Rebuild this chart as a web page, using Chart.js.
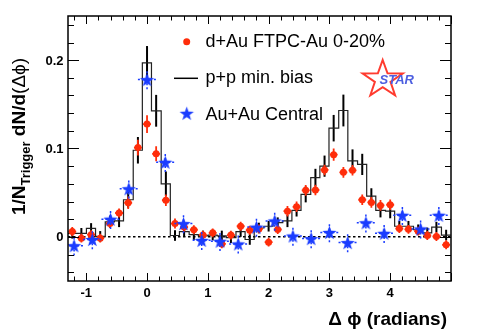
<!DOCTYPE html>
<html>
<head>
<meta charset="utf-8">
<script src="https://cdn.jsdelivr.net/npm/chart.js@4.4.1/dist/chart.umd.min.js"></script>
<style>
  html, body { margin: 0; padding: 0; background: #fff; }
  #c { display: block; }
</style>
</head>
<body>
<canvas id="c" width="498" height="330"></canvas>
<script>
// bin centres (radians) shared by the d+Au points and the p+p histogram
const binCenters = [-1.23, -1.08, -0.92, -0.77, -0.61, -0.46, -0.31, -0.15, 0, 0.15,
  0.31, 0.46, 0.61, 0.77, 0.92, 1.08, 1.23, 1.38, 1.54, 1.69,
  1.84, 2.00, 2.15, 2.31, 2.46, 2.61, 2.77, 2.92, 3.07, 3.23,
  3.38, 3.54, 3.69, 3.84, 4.00, 4.15, 4.30, 4.46, 4.61, 4.76, 4.92];
const binHalfWidth = 0.077;

// d+Au FTPC-Au 0-20%
const dAuY = [0.006, -0.0015, 0.0025, -0.0015, 0.015, 0.027, 0.0386, 0.101, 0.1276, 0.094,
  0.0414, 0.015, 0.011, 0.008, 0.002, 0.0045, -0.008, 0.002, 0.012, 0.0075,
  0.009, -0.006, 0.0083, 0.029, 0.034, 0.0526, 0.053, 0.0757, 0.093, 0.073,
  0.0753, 0.042, 0.039, 0.0356, 0.0363, 0.0093, 0.0085, 0.0064, 0.0015, 0.0004, -0.009];
const dAuErr = [0.005, 0.005, 0.005, 0.005, 0.005, 0.005, 0.007, 0.009, 0.010, 0.0085,
  0.0066, 0.0057, 0.005, 0.005, 0.005, 0.005, 0.005, 0.005, 0.005, 0.005,
  0.005, 0.005, 0.005, 0.006, 0.006, 0.006, 0.006, 0.006, 0.007, 0.006,
  0.006, 0.006, 0.006, 0.006, 0.006, 0.005, 0.005, 0.005, 0.005, 0.005, 0.005];
const dAuErrX = 0.065;

// p+p min. bias histogram
const ppY = [0.004, 0.004, 0.0095, 0.0005, 0.017, 0.018, 0.042, 0.098, 0.197, 0.1427,
  0.060, 0.0015, 0.006, 0.0025, 0.001, 0.002, 0.001, -0.001, 0.006, -0.003,
  0.010, 0.012, 0.016, 0.018, 0.030, 0.048, 0.067, 0.080, 0.123, 0.143,
  0.086, 0.082, 0.046, 0.030, 0.029, 0.012, 0.012, 0.008, 0.0045, 0.011, 0.002];
const ppErr = [0.006, 0.006, 0.006, 0.006, 0.007, 0.007, 0.009, 0.015, 0.019, 0.018,
  0.014, 0.006, 0.006, 0.006, 0.006, 0.006, 0.006, 0.006, 0.006, 0.006,
  0.006, 0.006, 0.006, 0.007, 0.007, 0.009, 0.010, 0.012, 0.015, 0.018,
  0.013, 0.012, 0.009, 0.008, 0.008, 0.006, 0.006, 0.006, 0.006, 0.006, 0.006];

// Au+Au Central
const auAuX = [-1.2, -0.9, -0.6, -0.3, 0, 0.3, 0.6, 0.9, 1.2, 1.5,
  1.8, 2.1, 2.4, 2.7, 3.0, 3.3, 3.6, 3.9, 4.2, 4.5, 4.8];
const auAuY = [-0.010, -0.003, 0.020, 0.0545, 0.178, 0.0845, 0.015, -0.004, -0.005, -0.008,
  0.011, 0.018, 0.001, -0.002, 0.005, -0.0065, 0.016, 0.004, 0.0245, 0.009, 0.0245];
const auAuErr = 0.011;
const auAuErrX = 0.15;

// axes
const xRange = [-1.3, 5.0];
const yRange = [-0.05, 0.25];
const xTickLabels = [-1, 0, 1, 2, 3, 4];
const yTickLabels = [0, 0.1, 0.2];
const xMinorStep = 0.2;
const yMinorStep = 0.02;

const legendLabels = ['d+Au FTPC-Au 0-20%', 'p+p min. bias', 'Au+Au Central'];

const RED = '#ff2d0a';
const BLUE = '#1a3cff';
const FONT = "'Liberation Sans', Arial, Helvetica, sans-serif";

function starPath(g, cx, cy, r, ri, sx) {
  g.beginPath();
  for (let i = 0; i < 10; i++) {
    const rad = i % 2 === 0 ? r : ri;
    const a = -Math.PI / 2 + i * Math.PI / 5;
    g.lineTo(cx + rad * Math.cos(a) * sx, cy + rad * Math.sin(a));
  }
  g.closePath();
}

function makeStar(r, color) {
  const c = document.createElement('canvas');
  const s = Math.ceil(r * 2 + 2);
  c.width = s;
  c.height = s;
  const g = c.getContext('2d');
  g.fillStyle = color;
  starPath(g, s / 2, s / 2 + r * 0.1, r, r * 0.4, 1);
  g.fill();
  return c;
}

const starImg = makeStar(7.5, BLUE);

// error bars are drawn just under their own dataset
const errorBars = {
  id: 'errorBars',
  beforeDatasetDraw(chart, args) {
    const ds = chart.data.datasets[args.index];
    if (!ds.errBars) return;
    const xs = chart.scales.x, ys = chart.scales.y, g = chart.ctx, a = chart.chartArea;
    g.save();
    g.beginPath();
    g.rect(a.left, a.top, a.right - a.left, a.bottom - a.top);
    g.clip();
    g.strokeStyle = ds.errColor;
    g.lineWidth = ds.errWidth;
    g.setLineDash(ds.errDash || []);
    ds.errBars.forEach(b => {
      const px = xs.getPixelForValue(b.x), py = ys.getPixelForValue(b.y);
      g.beginPath();
      g.moveTo(px, ys.getPixelForValue(b.y - b.ey));
      g.lineTo(px, ys.getPixelForValue(b.y + b.ey));
      if (b.ex) {
        g.moveTo(xs.getPixelForValue(b.x - b.ex), py);
        g.lineTo(xs.getPixelForValue(b.x + b.ex), py);
      }
      g.stroke();
    });
    g.restore();
  }
};

const zeroLine = {
  id: 'zeroLine',
  beforeDatasetsDraw(chart) {
    const g = chart.ctx, a = chart.chartArea, y = chart.scales.y.getPixelForValue(0);
    g.save();
    g.strokeStyle = '#000';
    g.lineWidth = 1.5;
    g.setLineDash([2.5, 2.5]);
    g.beginPath();
    g.moveTo(a.left, y);
    g.lineTo(a.right, y);
    g.stroke();
    g.restore();
  }
};

// ROOT-like frame: ticks inside, bold labels, legend and the STAR logo
const frame = {
  id: 'frame',
  afterDraw(chart) {
    const g = chart.ctx, a = chart.chartArea, xs = chart.scales.x, ys = chart.scales.y;
    g.save();
    g.strokeStyle = '#000';
    g.lineWidth = 1.5;
    g.strokeRect(a.left, a.top, a.right - a.left, a.bottom - a.top);

    g.lineWidth = 1;
    g.beginPath();
    for (let v = -1.2; v <= xRange[1] + 1e-9; v += xMinorStep) {
      const major = Math.abs(v - Math.round(v)) < 1e-6;
      const len = major ? 8 : 4.5;
      const px = Math.round(xs.getPixelForValue(v)) + 0.5;
      g.moveTo(px, a.bottom); g.lineTo(px, a.bottom - len);
      g.moveTo(px, a.top); g.lineTo(px, a.top + len);
    }
    for (let v = -0.04; v <= yRange[1] + 1e-9; v += yMinorStep) {
      const major = Math.abs(v * 10 - Math.round(v * 10)) < 1e-6;
      const len = major ? 11 : 6;
      const py = Math.round(ys.getPixelForValue(v)) + 0.5;
      g.moveTo(a.left, py); g.lineTo(a.left + len, py);
      g.moveTo(a.right, py); g.lineTo(a.right - len, py);
    }
    g.stroke();

    g.fillStyle = '#000';
    g.font = 'bold 13px ' + FONT;
    g.textAlign = 'center';
    g.textBaseline = 'alphabetic';
    xTickLabels.forEach(v => g.fillText(String(v), xs.getPixelForValue(v), 296.5));
    g.textAlign = 'right';
    yTickLabels.forEach(v => g.fillText(String(v), 63.5, ys.getPixelForValue(v) + 4.6));

    // x title
    g.font = 'bold 19px ' + FONT;
    g.textAlign = 'right';
    g.fillText('\u0394 \u03D5 (radians)', 447, 325);

    // y title
    g.save();
    g.translate(25, 136.5);
    g.rotate(-Math.PI / 2);
    const parts = [
      { t: '1/N', f: 'bold 19px ' + FONT, dy: 0 },
      { t: 'Trigger', f: 'bold 13px ' + FONT, dy: 5 },
      { t: ' dN/d', f: 'bold 19px ' + FONT, dy: 0 },
      { t: '(\u0394\u03D5)', f: '19px ' + FONT, dy: 0 }
    ];
    let total = 0;
    parts.forEach(p => { g.font = p.f; p.w = g.measureText(p.t).width; total += p.w; });
    let x = -total / 2;
    g.textAlign = 'left';
    parts.forEach(p => { g.font = p.f; g.fillText(p.t, x, p.dy); x += p.w; });
    g.restore();

    // legend
    g.font = '18px ' + FONT;
    g.textAlign = 'left';
    const rows = [47, 83.3, 119.5];
    legendLabels.forEach((t, i) => g.fillText(t, 205.5, rows[i]));
    g.fillStyle = RED;
    g.beginPath();
    g.arc(186.7, 41.7, 3.5, 0, Math.PI * 2);
    g.fill();
    g.strokeStyle = '#000';
    g.lineWidth = 1.5;
    g.beginPath();
    g.moveTo(174, 78.3); g.lineTo(198, 78.3);
    g.stroke();
    g.drawImage(starImg, 186.7 - starImg.width / 2, 113.3 - starImg.height / 2);

    // STAR logo
    g.strokeStyle = '#ff3b2f';
    g.lineWidth = 2;
    starPath(g, 382.7, 79.5, 19.5, 7.6, 1.08);
    g.stroke();
    g.fillStyle = '#4d5fe0';
    g.font = 'italic bold 13px ' + FONT;
    g.textAlign = 'left';
    g.fillText('STAR', 379.5, 84);
    g.restore();
  }
};

const histData = binCenters.map((c, i) => ({ x: c - binHalfWidth, y: ppY[i] }));
histData.push({ x: binCenters[binCenters.length - 1] + binHalfWidth, y: ppY[ppY.length - 1] });

new Chart(document.getElementById('c'), {
  type: 'scatter',
  data: {
    datasets: [
      {
        label: legendLabels[2],
        data: auAuX.map((x, i) => ({ x: x, y: auAuY[i] })),
        pointStyle: starImg,
        order: 0,
        errBars: auAuX.map((x, i) => ({ x: x, y: auAuY[i], ex: auAuErrX, ey: auAuErr })),
        errColor: BLUE,
        errWidth: 1.5,
        errDash: [2, 2]
      },
      {
        label: legendLabels[0],
        data: binCenters.map((x, i) => ({ x: x, y: dAuY[i] })),
        pointStyle: 'circle',
        pointRadius: 3.5,
        backgroundColor: RED,
        borderWidth: 0,
        order: 1,
        errBars: binCenters.map((x, i) => ({ x: x, y: dAuY[i], ex: dAuErrX, ey: dAuErr[i] })),
        errColor: RED,
        errWidth: 1.8
      },
      {
        type: 'line',
        label: legendLabels[1],
        data: histData,
        stepped: true,
        borderColor: '#222',
        borderWidth: 1.2,
        pointRadius: 0,
        fill: false,
        order: 2,
        errBars: binCenters.map((x, i) => ({ x: x, y: ppY[i], ey: ppErr[i] })),
        errColor: '#000',
        errWidth: 2
      }
    ]
  },
  options: {
    responsive: false,
    devicePixelRatio: 1,
    animation: false,
    layout: { padding: { left: 68, top: 16, right: 47, bottom: 49 } },
    scales: {
      x: { type: 'linear', min: xRange[0], max: xRange[1], display: false },
      y: { type: 'linear', min: yRange[0], max: yRange[1], display: false }
    },
    plugins: { legend: { display: false }, tooltip: { enabled: false } }
  },
  plugins: [zeroLine, errorBars, frame]
});
</script>
</body>
</html>
